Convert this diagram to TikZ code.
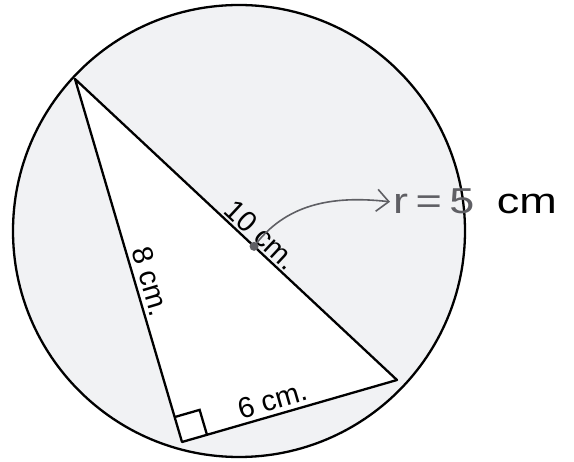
\documentclass[tikz,border=0pt]{standalone}
\usepackage{fontspec}
\setmainfont{Liberation Sans}
\usetikzlibrary{calc,arrows.meta}
\definecolor{discfill}{RGB}{241,242,244}
\definecolor{pencil}{RGB}{95,95,100}
\tikzset{
  edgelabel/.style={sloped,above,inner sep=4pt,font=\fontsize{29}{32}\selectfont},
  penline/.style={pencil,line width=1.6pt,line cap=round}
}
\begin{document}
\begin{tikzpicture}[x=1pt,y=-1pt,line width=2.3pt]
\useasboundingbox (0,0) rectangle (574,462);

\coordinate (centre) at (239,231);
\coordinate (top) at (75,79);
\coordinate (foot) at (182,442);
\coordinate (right) at (397,380);

\draw[fill=discfill] (centre) circle (226pt);
\draw[fill=white,line join=round] (top) -- node[edgelabel,pos=.57] {8 cm.} (foot)
  -- node[edgelabel,pos=.44] {6 cm.} (right)
  -- node[edgelabel,pos=.45,inner sep=2pt] {10 cm.} cycle;

\coordinate (sqa) at ($(foot)!26pt!(top)$);
\coordinate (sqb) at ($(foot)!26pt!(right)$);
\draw (sqa) -- ($(sqa)+(sqb)-(foot)$) -- (sqb);

\coordinate (dot) at ($(top)!0.556!(right)$);
\fill[pencil] (dot) circle (4.5pt);

\node[anchor=base west,inner sep=2pt,font=\fontsize{36}{40}\selectfont] (rlabel) at (390,214)
  {\scalebox{1.25}[1]{\textcolor{pencil}{r\,=\,5}\enspace cm}};
\draw[penline,-{Straight Barb[length=12pt,width=22pt]}] (dot) .. controls (285,205) and (330,195) .. (rlabel.west);
\end{tikzpicture}
\end{document}
